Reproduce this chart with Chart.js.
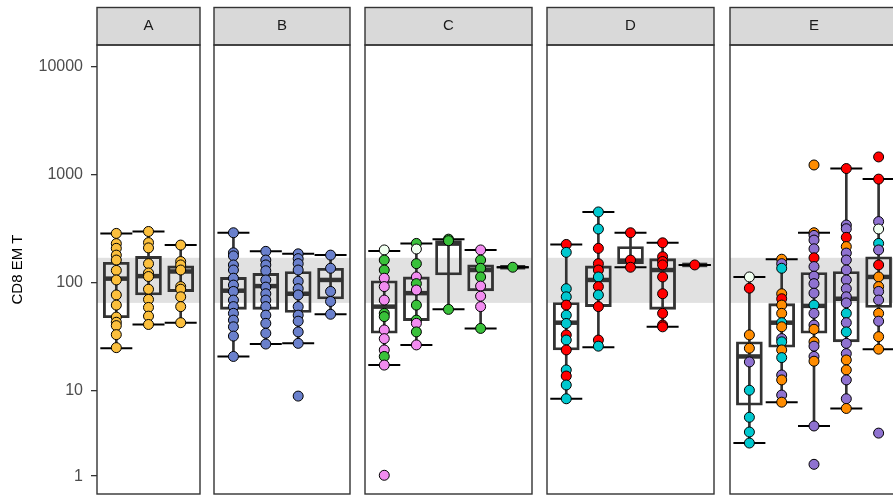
<!DOCTYPE html>
<html><head><meta charset="utf-8">
<script src="https://cdn.jsdelivr.net/npm/chart.js@4.4.1/dist/chart.umd.min.js"></script>
<style>
html,body{margin:0;padding:0;background:#fff;}
#wrap{position:relative;width:893px;height:498px;overflow:hidden;background:#fff;}
#wrap canvas{position:absolute;top:0;}
</style></head><body>
<div id="wrap"></div>
<script>
// ---------------- data ----------------
const facets = ['A', 'B', 'C', 'D', 'E'];
const yTickValues = [1, 10, 100, 1000, 10000];
const yTitle = 'CD8 EM T';
const referenceBand = [65, 170];
const yLimits = [0.2, 15880];

// point values per category (one list per box), with group code per point
const valuesA = [
  [286, 230, 208, 180, 162, 130, 106, 77, 62, 48, 43, 40, 33, 25],
  [298, 235, 210, 150, 123, 114, 87, 70, 59, 49, 41],
  [223, 157, 146, 131, 92, 87, 74, 60, 42.6]
];
const groupsA = ['Y', 'Y', 'Y'];

const valuesB = [
  [290, 189, 177, 146, 131, 110, 95, 83, 69, 60, 52, 45, 39, 32, 20.7],
  [195, 162, 146, 129, 106, 91, 79, 69, 60, 50, 42, 34, 27],
  [185, 167, 150, 131, 103, 88, 77, 60, 50, 44, 35, 27.4, 8.8],
  [180, 136, 83, 67, 51]
];
const groupsB = ['B', 'B', 'B', 'B'];

const valuesC = [
  [201, 162, 131, 110, 92, 69, 52, 48.5, 36.5, 30.3, 23.8, 20.7, 17.2, 1.04],
  [231, 205, 150, 113, 98, 85.5, 62, 45, 42, 35, 26.5],
  [253, 245, 56.6],
  [201, 162, 136, 113, 93, 75, 60, 37.7],
  [139]
];
const groupsC = ['WGGPPPGGPPPGPP', 'GWGPGPGGPGP', 'GGG', 'PGGGPPPG', 'G'];

const valuesD = [
  [226, 191, 88, 74, 62, 50, 41.9, 32.8, 29.4, 23.8, 15.5, 13.6, 11.2, 8.3],
  [452, 314, 208, 150, 131, 113, 92, 77, 60, 29.4, 25.8],
  [290, 162, 139],
  [234, 174, 157, 146, 113, 79, 52, 40.5, 39],
  [146]
];
const groupsD = ['RCCCRCCRCRCRCC', 'CCRRRCRCRRC', 'R', 'R', 'R'];

const valuesE = [
  [113, 89, 32.8, 24.7, 18.4, 10, 5.5, 3.9, 2.97],
  [165, 150, 136, 79, 71, 62, 52, 42.6, 39, 30.3, 28.3, 23.8, 20.2, 13.9, 12.5, 9, 7.7],
  [1230, 290, 274, 248, 206, 170, 141, 115, 98, 80, 62, 52, 40.5, 37, 28.3, 25.8, 20.7, 18.7, 4.5, 1.6],
  [1140, 342, 316, 263, 216, 188, 162, 131, 106, 88, 74, 65, 52, 42.6, 35, 27.4, 22, 19.2, 15.5, 12.5, 8.3, 6.7],
  [1460, 910, 368, 314, 231, 201, 146, 113, 92, 83, 69, 52, 44, 31.6, 24.2, 3.8]
];
const groupsE = ['WROOUCCCC', 'OUCOROOCOUCOCUOUO', 'OOUUURUUUUCUUOOUUOUU', 'RUUROUUUUUUUCUCUUOOUUO', 'RRUWCUROOUUOUOOU'];

// box statistics per category: [lower whisker, Q1, median, Q3, upper whisker]
const statsA = [[24.7, 47.4, 109, 154.5, 286], [41, 76.9, 115, 175, 298], [42.6, 82.6, 127, 143, 223]];
const statsB = [[20.7, 56.6, 84.3, 112, 290], [27, 56.6, 93, 122, 195], [27.4, 53, 79, 127, 185], [51, 70.7, 106, 136, 180]];
const statsC = [[17.2, 34, 60, 104, 197], [26.5, 44.5, 80, 113, 230], [56.6, 118, 230, 245, 253], [37.7, 84, 131, 146, 201], [139, 139, 139, 139, 139]];
const statsD = [[8.3, 23.8, 42.6, 65.5, 226], [25.2, 60, 106, 143, 452], [139, 150, 160, 216, 290], [39, 56.6, 131, 167, 234], [146, 146, 146, 146, 146]];
const statsE = [[2.97, 7.2, 20.7, 28.3, 113], [7.7, 25.2, 42.6, 64, 165], [4.5, 34, 61, 124, 290], [6.7, 28.3, 71, 127, 1140], [24.2, 59, 113, 174, 910]];

// ---------------- styles ----------------
const groupColors = {
  Y: '#fbbf3d', B: '#6a80cc', G: '#39c13a', P: '#f28cf0', R: '#ff0000',
  C: '#00c8cf', O: '#ff8c00', U: '#8f72d0', W: '#f0fff0'
};
const FONT = '"Liberation Sans", Arial, Helvetica, sans-serif';
const panelLayout = [
  { left: 0, width: 203, padL: 0 },
  { left: 211, width: 142, padL: 3 },
  { left: 362, width: 173, padL: 3 },
  { left: 544, width: 173, padL: 3 },
  { left: 727, width: 174, padL: 3 }
];
const allValues = [valuesA, valuesB, valuesC, valuesD, valuesE];
const allGroups = [groupsA, groupsB, groupsC, groupsD, groupsE];
const allStats = [statsA, statsB, statsC, statsD, statsE];

// ---------------- pseudo-log scale (asinh, sigma = 1, base 10) ----------------
const LinearScale = Chart.LinearScale || Chart.registry.getScale('linear');
const tr = v => Math.asinh(v / 2) / Math.LN10;
class PseudoLogScale extends LinearScale {
  buildTicks() { return yTickValues.map(v => ({ value: v })); }
  getPixelForValue(value) {
    const a = tr(this.min), b = tr(this.max);
    return this.getPixelForDecimal((tr(value) - a) / (b - a));
  }
  getValueForPixel(pixel) {
    const a = tr(this.min), b = tr(this.max);
    const t = a + this.getDecimalForPixel(pixel) * (b - a);
    return 2 * Math.sinh(t * Math.LN10);
  }
}
PseudoLogScale.id = 'pseudolog';
PseudoLogScale.defaults = {};
Chart.register(PseudoLogScale);

const facetPlugin = {
  id: 'facet',
  beforeDatasetsDraw(chart) {
    const { ctx, chartArea: a, scales: { y } } = chart;
    ctx.save();
    const yTop = y.getPixelForValue(referenceBand[1]);
    const yBot = y.getPixelForValue(referenceBand[0]);
    ctx.fillStyle = '#e1e1e1';
    ctx.fillRect(a.left, yTop, a.right - a.left, yBot - yTop);
    ctx.restore();
  },
  beforeDraw(chart) {
    const { ctx, chartArea: a } = chart;
    ctx.save();
    ctx.fillStyle = '#d9d9d9';
    ctx.fillRect(a.left, 7.5, a.right - a.left, a.top - 7.5);
    ctx.restore();
  },
  afterDraw(chart) {
    const { ctx, chartArea: a } = chart;
    ctx.save();
    ctx.strokeStyle = '#333333';
    ctx.lineWidth = 1.4;
    ctx.strokeRect(a.left, a.top, a.right - a.left, a.bottom - a.top);
    ctx.strokeRect(a.left, 7.5, a.right - a.left, a.top - 7.5);
    ctx.restore();
  }
};

const wrap = document.getElementById('wrap');
facets.forEach((name, p) => {
  const vals = allValues[p], grps = allGroups[p], stats = allStats[p];
  const n = stats.length;
  const lay = panelLayout[p];
  const cv = document.createElement('canvas');
  cv.width = lay.width; cv.height = 498;
  cv.style.left = lay.left + 'px';
  wrap.appendChild(cv);

  const pts = [], cols = [];
  vals.forEach((list, i) => {
    list.forEach((v, j) => {
      pts.push({ x: i + 1, y: v });
      const g = grps[i].length === 1 ? grps[i] : grps[i][j];
      cols.push(groupColors[g]);
    });
  });
  const caps = [];
  stats.forEach((s, i) => { caps.push({ x: i + 1, y: s[0] }); caps.push({ x: i + 1, y: s[4] }); });

  const isFirst = p === 0;
  new Chart(cv, {
    type: 'scatter',
    data: {
      datasets: [
        { type: 'scatter', order: 0, data: pts, pointRadius: 5, pointBackgroundColor: cols,
          pointBorderColor: '#000', pointBorderWidth: 1 },
        { type: 'scatter', order: 1, data: caps, pointStyle: 'line', pointRadius: 16,
          pointBorderColor: '#000', pointBorderWidth: 2 },
        { type: 'scatter', order: 2, data: stats.map((s, i) => ({ x: i + 1, y: s[2] })),
          pointStyle: 'line', pointRadius: 12.5, pointBorderColor: '#333', pointBorderWidth: 4.5 },
        { type: 'bar', order: 3, grouped: false, barThickness: 26, backgroundColor: 'rgba(0,0,0,0)',
          borderColor: '#333', borderWidth: 2.2, borderSkipped: false,
          data: stats.map((s, i) => ({ x: i + 1, y: [s[1], s[3]] })) },
        { type: 'bar', order: 4, grouped: false, barThickness: 2, backgroundColor: '#333', borderWidth: 0,
          data: stats.map((s, i) => ({ x: i + 1, y: [s[0], s[4]] })) }
      ]
    },
    options: {
      responsive: false, animation: false, events: [],
      layout: { autoPadding: false, padding: { left: lay.padL, right: 3, top: 0, bottom: 4 } },
      plugins: {
        legend: { display: false }, tooltip: { enabled: false },
        title: { display: true, text: name, fullSize: false, color: '#1a1a1a',
          font: { size: 15, family: FONT, weight: 'normal' }, padding: { top: 17.25, bottom: 9.75 } }
      },
      scales: {
        x: { type: 'linear', min: 0.4, max: n + 0.6, display: false, offset: false, grid: { offset: false } },
        y: {
          type: 'pseudolog', position: 'left', min: yLimits[0], max: yLimits[1], display: isFirst,
          beginAtZero: false,
          afterFit(s) { if (isFirst) { s.width = 97; } s.paddingTop = 0; s.paddingBottom = 0; },
          grid: { drawOnChartArea: false, drawTicks: true, tickLength: 6, color: '#333', lineWidth: 1.3 },
          border: { display: false },
          ticks: { color: '#4d4d4d', font: { size: 16, family: FONT }, padding: 8,
            autoSkip: false, maxRotation: 0, callback: v => String(v) },
          title: { display: true, text: yTitle, color: '#000', font: { size: 15, family: FONT },
            padding: { top: 9, bottom: 0 } }
        }
      }
    },
    plugins: [facetPlugin]
  });
});
</script>
</body></html>
